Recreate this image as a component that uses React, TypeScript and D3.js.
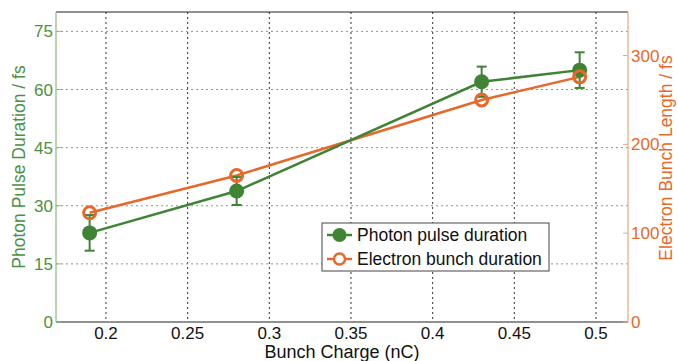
import * as d3 from "d3";

// Bunch charge (nC)
const charge = [0.19, 0.28, 0.43, 0.49];
// Photon pulse duration (fs) with error
const photon = [23, 33.8, 62, 65];
const photonErr = [4.6, 3.6, 3.9, 4.6];
// Electron bunch length (fs), right axis
const electron = [123, 165, 250, 276];

const xTicks = [0.2, 0.25, 0.3, 0.35, 0.4, 0.45, 0.5];
const leftTicks = [0, 15, 30, 45, 60, 75];
const rightTicks = [0, 100, 200, 300];

const GREEN = "#3f8434";
const GREEN_TXT = "#4b9142";
const GREEN_AXIS = "#8bb882";
const ORANGE = "#e8682a";
const ORANGE_AXIS = "#f2a47a";
const FONT = "'Liberation Sans', Arial, sans-serif";

export default function App() {
  const width = 678;
  const height = 361;
  const m = { left: 56, right: 628, top: 12, bottom: 322 };

  const x = d3.scaleLinear().domain([0.1694, 0.5196]).range([m.left, m.right]);
  const yL = d3.scaleLinear().domain([0, 80]).range([m.bottom, m.top]);
  const yR = d3.scaleLinear().domain([0, 349]).range([m.bottom, m.top]);

  const photonLine = d3
    .line<number>()
    .x((_, i) => x(charge[i]))
    .y((d) => yL(d));
  const electronLine = d3
    .line<number>()
    .x((_, i) => x(charge[i]))
    .y((d) => yR(d));

  return (
    <svg
      width={width}
      height={height}
      style={{ position: "absolute", left: 0, top: 0, fontFamily: FONT }}
    >
      <rect width={width} height={height} fill="#fff" />

      {/* vertical grid */}
      {xTicks.map((t) => (
        <line
          key={"vg" + t}
          x1={x(t)}
          x2={x(t)}
          y1={m.top}
          y2={m.bottom}
          stroke="#333"
          strokeWidth={1}
          strokeDasharray="2,3"
        />
      ))}
      {/* horizontal grid */}
      {leftTicks.slice(1).map((t) => (
        <line
          key={"hg" + t}
          x1={m.left}
          x2={m.right}
          y1={yL(t)}
          y2={yL(t)}
          stroke="#7aa66f"
          strokeWidth={1}
          strokeDasharray="2,3"
        />
      ))}

      {/* frame */}
      <line x1={m.left} x2={m.right} y1={m.top} y2={m.top} stroke="#222" strokeWidth={1} />
      <line x1={m.left} x2={m.right} y1={m.bottom} y2={m.bottom} stroke="#222" strokeWidth={1} />
      <line x1={m.left} x2={m.left} y1={m.top} y2={m.bottom} stroke={GREEN_AXIS} strokeWidth={1.2} />
      <line x1={m.right} x2={m.right} y1={m.top} y2={m.bottom} stroke={ORANGE_AXIS} strokeWidth={1.2} />

      {/* left ticks */}
      {leftTicks.map((t) => (
        <g key={"lt" + t}>
          <line x1={m.left} x2={m.left + 5} y1={yL(t)} y2={yL(t)} stroke={GREEN_AXIS} />
          <text
            x={m.left - 3}
            y={yL(t)}
            dy="0.36em"
            textAnchor="end"
            fontSize={17}
            fill={GREEN_TXT}
          >
            {t}
          </text>
        </g>
      ))}
      {/* right ticks */}
      {rightTicks.map((t) => (
        <g key={"rt" + t}>
          <line x1={m.right - 5} x2={m.right} y1={yR(t)} y2={yR(t)} stroke={ORANGE_AXIS} />
          <text x={m.right + 3} y={yR(t)} dy="0.36em" fontSize={17} fill={ORANGE}>
            {t}
          </text>
        </g>
      ))}
      {/* x ticks */}
      {xTicks.map((t) => (
        <text
          key={"xt" + t}
          x={x(t)}
          y={m.bottom + 17}
          textAnchor="middle"
          fontSize={17}
          fill="#111"
        >
          {String(t)}
        </text>
      ))}

      {/* axis titles */}
      <text x={(m.left + m.right) / 2} y={358} textAnchor="middle" fontSize={18} fill="#111">
        Bunch Charge (nC)
      </text>
      <text
        transform={`translate(25,167) rotate(-90)`}
        textAnchor="middle"
        fontSize={17.5}
        fill={GREEN_TXT}
      >
        Photon Pulse Duration / fs
      </text>
      <text
        transform={`translate(672,158) rotate(-90)`}
        textAnchor="middle"
        fontSize={17.5}
        fill={ORANGE}
      >
        Electron Bunch Length / fs
      </text>

      {/* electron series */}
      <path d={electronLine(electron) ?? ""} fill="none" stroke={ORANGE} strokeWidth={2.5} />
      {/* photon series */}
      <path d={photonLine(photon) ?? ""} fill="none" stroke={GREEN} strokeWidth={2.5} />
      {photon.map((v, i) => {
        const cx = x(charge[i]);
        const lo = yL(v - photonErr[i]);
        const hi = yL(v + photonErr[i]);
        return (
          <g key={"pe" + i} stroke={GREEN} strokeWidth={2}>
            <line x1={cx} x2={cx} y1={lo} y2={hi} />
            <line x1={cx - 5} x2={cx + 5} y1={lo} y2={lo} />
            <line x1={cx - 5} x2={cx + 5} y1={hi} y2={hi} />
          </g>
        );
      })}
      {photon.map((v, i) => (
        <circle key={"pc" + i} cx={x(charge[i])} cy={yL(v)} r={7.5} fill={GREEN} />
      ))}
      {electron.map((v, i) => (
        <circle
          key={"ec" + i}
          cx={x(charge[i])}
          cy={yR(v)}
          r={6}
          fill="none"
          stroke={ORANGE}
          strokeWidth={3}
        />
      ))}

      {/* legend */}
      <g>
        <rect x={322} y={223} width={227} height={48} fill="#fff" stroke="#444" strokeWidth={1} />
        <line x1={327} x2={352} y1={235} y2={235} stroke={GREEN} strokeWidth={2.5} />
        <circle cx={339.5} cy={235} r={7} fill={GREEN} />
        <text x={357} y={235} dy="0.36em" fontSize={17.5} fill="#111">
          Photon pulse duration
        </text>
        <line x1={327} x2={352} y1={259} y2={259} stroke={ORANGE} strokeWidth={2.5} />
        <circle cx={339.5} cy={259} r={5.5} fill="#fff" stroke={ORANGE} strokeWidth={2.5} />
        <text x={357} y={259} dy="0.36em" fontSize={17.5} fill="#111">
          Electron bunch duration
        </text>
      </g>
    </svg>
  );
}
